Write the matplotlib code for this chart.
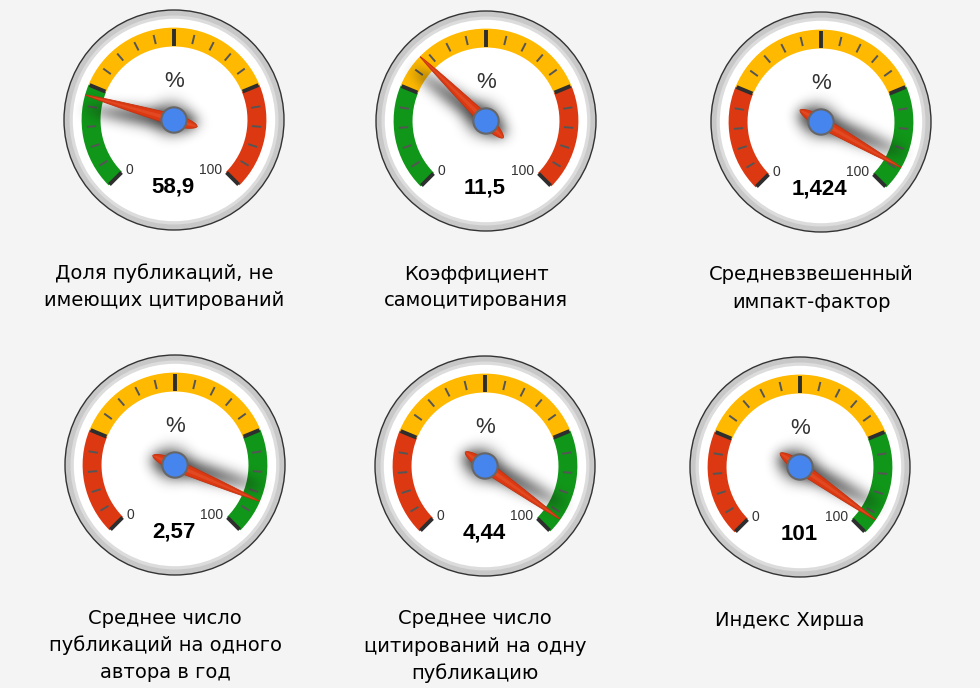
import numpy as np
import matplotlib
matplotlib.use("Agg")
import matplotlib.pyplot as plt
from matplotlib.patches import Circle, Wedge, Polygon

# ---------------- data ----------------
titles = [
    ["Доля публикаций, не", "имеющих цитирований"],
    ["Коэффициент", "самоцитирования"],
    ["Средневзвешенный", "импакт-фактор"],
    ["Среднее число", "публикаций на одного", "автора в год"],
    ["Среднее число", "цитирований на одну", "публикацию"],
    ["Индекс Хирша"],
]
value_labels = ["58,9", "11,5", "1,424", "2,57", "4,44", "101"]
needle_values = [22.5, 33.1, 94.3, 91.9, 96.4, 96.3]
unit_label = "%"
scale_min, scale_max = 0, 100
# colour bands: (from, to, colour name)
bands_good_low = [(0, 25, "green"), (25, 75, "yellow"), (75, 100, "red")]
bands_good_high = [(0, 25, "red"), (25, 75, "yellow"), (75, 100, "green")]
gauge_bands = [bands_good_low, bands_good_low, bands_good_high,
               bands_good_high, bands_good_high, bands_good_high]
major_step = 25
minor_step = 5

# ---------------- style ----------------
W, H = 980, 688
BG = "#f4f4f4"
COLORS = {"green": "#109618", "yellow": "#ffb900", "red": "#dc3912"}
centers_px = [(174, 120), (486, 121), (821, 122), (175, 465), (485, 466), (800, 467)]
R = 110.0


def ang(v):
    """value -> math angle in degrees"""
    frac = (v - scale_min) / (scale_max - scale_min)
    return 225.0 - 270.0 * frac


def gblur(a, sigma):
    r = int(3 * sigma)
    x = np.arange(-r, r + 1)
    k = np.exp(-x ** 2 / (2.0 * sigma ** 2))
    k /= k.sum()
    a = np.apply_along_axis(lambda m: np.convolve(m, k, mode="same"), 0, a)
    a = np.apply_along_axis(lambda m: np.convolve(m, k, mode="same"), 1, a)
    return a


class ShadowFilter:
    def __init__(self, sigma=5.0, alpha=0.6, color=(0.1, 0.1, 0.1)):
        self.sigma = sigma
        self.alpha = alpha
        self.color = color

    def __call__(self, im, dpi):
        pad = int(3 * self.sigma) + 2
        p = np.pad(im, ((pad, pad), (pad, pad), (0, 0)), "constant")
        al = gblur(p[..., 3], self.sigma)
        out = np.zeros_like(p)
        out[..., 0] = self.color[0]
        out[..., 1] = self.color[1]
        out[..., 2] = self.color[2]
        out[..., 3] = np.clip(al * self.alpha, 0, 1)
        return out, -pad, -pad


def needle_shape(cx, cy, theta_deg, scale_w=1.0):
    L, T, hw = 0.835 * R, 0.22 * R, 0.052 * R * scale_w
    us_tip = np.linspace(0, L, 50)
    w_tip = hw * (1 - us_tip / L) ** 0.72
    us_tail = np.linspace(-T, 0, 25)
    w_tail = hw * np.clip(1 - (us_tail / T) ** 2, 0, 1) ** 0.6
    u = np.concatenate([us_tail, us_tip[1:]])
    w = np.concatenate([w_tail, w_tip[1:]])
    uu = np.concatenate([u, u[::-1]])
    ww = np.concatenate([w, -w[::-1]])
    t = np.deg2rad(theta_deg)
    x = cx + uu * np.cos(t) - ww * np.sin(t)
    y = cy + uu * np.sin(t) + ww * np.cos(t)
    return np.column_stack([x, y])


fig = plt.figure(figsize=(W / 100, H / 100), dpi=100)
fig.patch.set_facecolor(BG)
ax = fig.add_axes([0, 0, 1, 1])
ax.set_xlim(0, W)
ax.set_ylim(0, H)
ax.axis("off")
ax.set_facecolor(BG)

for i, (cxp, cyp) in enumerate(centers_px):
    cx, cy = cxp, H - cyp
    # rim
    ax.add_patch(Circle((cx, cy), R, fc="#c8c8c8", ec="#333333", lw=1.0, zorder=1))
    ax.add_patch(Circle((cx, cy), 0.95 * R, fc="#dcdcdc", ec="none", zorder=1))
    ax.add_patch(Circle((cx, cy), 0.92 * R, fc="white", ec="none", zorder=1))
    # bands
    for a, b, cname in gauge_bands[i]:
        ax.add_patch(Wedge((cx, cy), 0.84 * R, ang(b), ang(a), width=0.172 * R,
                           fc=COLORS[cname], ec="none", zorder=2))
    # ticks
    for v in np.arange(scale_min, scale_max + 0.001, minor_step):
        t = np.deg2rad(ang(v))
        if (v - scale_min) % major_step == 0:
            r0, r1, lw, col = 0.675 * R, 0.83 * R, 2.8, "#2e2e2e"
        else:
            r0, r1, lw, col = 0.71 * R, 0.795 * R, 1.4, "#555555"
        ax.plot([cx + r0 * np.cos(t), cx + r1 * np.cos(t)],
                [cy + r0 * np.sin(t), cy + r1 * np.sin(t)],
                color=col, lw=lw, solid_capstyle="butt", zorder=3)
    # labels
    ax.text(cx - 0.445 * R, cy - 0.455 * R, str(scale_min), ha="left", va="center",
            fontsize=10, color="#333333", family="Liberation Sans", zorder=4)
    ax.text(cx + 0.435 * R, cy - 0.455 * R, str(scale_max), ha="right", va="center",
            fontsize=10, color="#333333", family="Liberation Sans", zorder=4)
    ax.text(cx, cy + 0.35 * R, unit_label, ha="center", va="center",
            fontsize=16, color="#333333", family="Liberation Sans", zorder=4)
    ax.text(cx - 0.01 * R, cy - 0.61 * R, value_labels[i], ha="center", va="center",
            fontsize=16, fontweight="bold", color="black", family="Liberation Sans", zorder=4)
    # needle shadow
    th = ang(needle_values[i])
    sh = Polygon(needle_shape(cx, cy, th + 9, scale_w=1.6), closed=True, fc="black",
                 ec="none", zorder=5)
    sh.set_agg_filter(ShadowFilter(sigma=6.5, alpha=0.85))
    ax.add_patch(sh)
    shc = Circle((cx - 3, cy + 2), 0.16 * R, fc="black", ec="none", zorder=5)
    shc.set_agg_filter(ShadowFilter(sigma=7.0, alpha=0.35))
    ax.add_patch(shc)
    # needle
    ax.add_patch(Polygon(needle_shape(cx, cy, th), closed=True, fc="#dc3912",
                         ec="#c2310f", lw=0.6, zorder=6))
    ax.add_patch(Polygon(needle_shape(cx, cy, th, scale_w=0.35), closed=True,
                         fc="#e4552d", ec="none", zorder=6, alpha=0.6))
    ax.add_patch(Circle((cx, cy), 0.115 * R, fc="#4684ee", ec="#666666", lw=1.5, zorder=7))
    # title
    for j, line in enumerate(titles[i]):
        ax.text(cx - 10, cy - 153 - 27 * j, line, ha="center", va="center",
                fontsize=14, color="black", family="DejaVu Sans", zorder=4)

fig.savefig("out.png", dpi=100, facecolor=BG)
